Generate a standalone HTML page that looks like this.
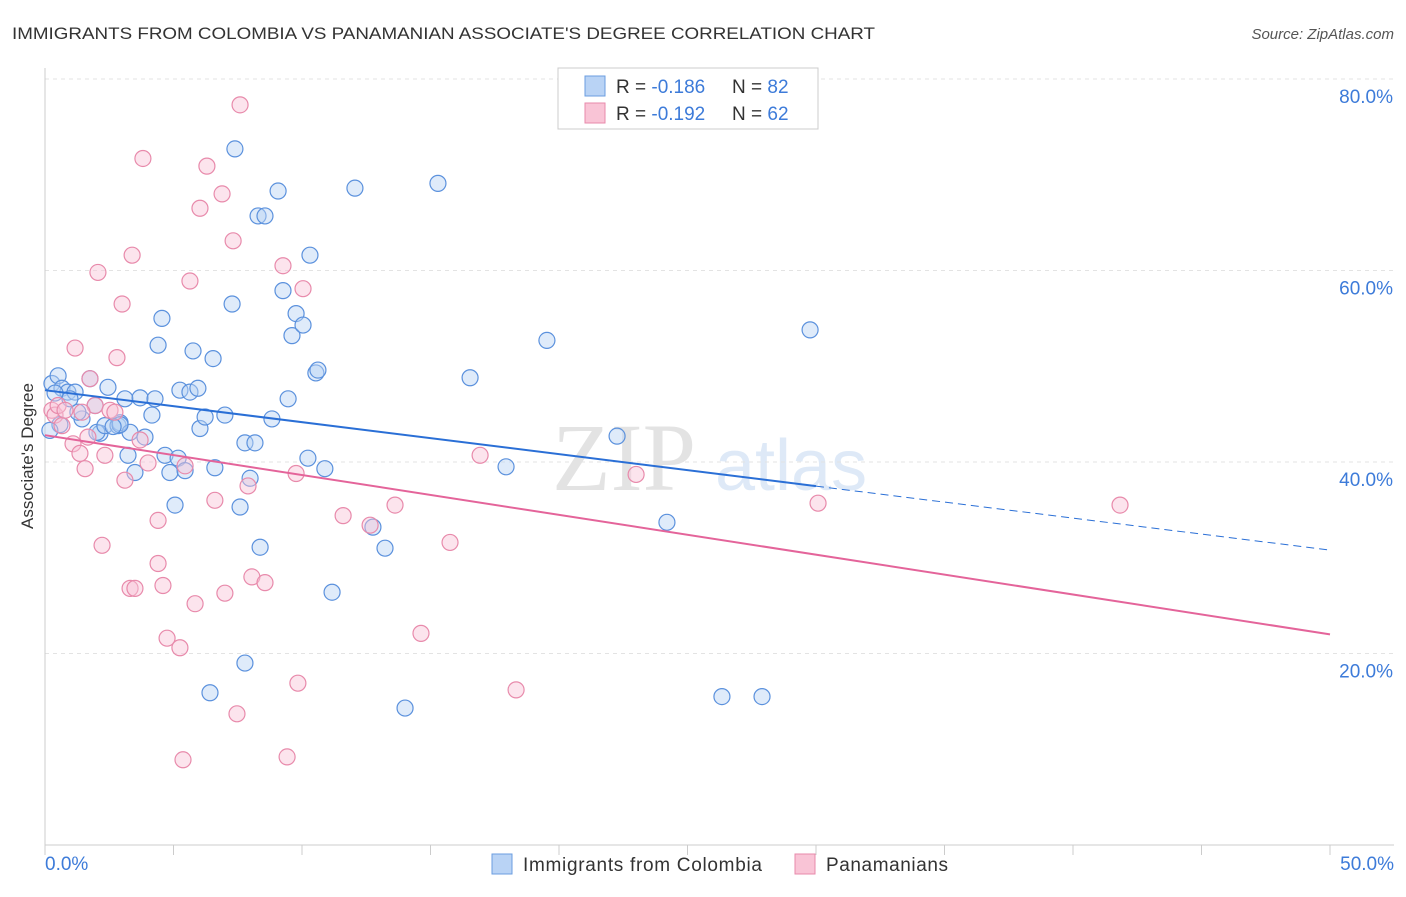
<!DOCTYPE html>
<html><head><meta charset="utf-8"><style>
body{margin:0;background:#fff;font-family:"Liberation Sans",sans-serif;}
</style></head><body>
<svg width="1406" height="892" xmlns="http://www.w3.org/2000/svg" id="chart">
<text x="12" y="39" font-size="17" fill="#333" textLength="863" lengthAdjust="spacingAndGlyphs">IMMIGRANTS FROM COLOMBIA VS PANAMANIAN ASSOCIATE'S DEGREE CORRELATION CHART</text>
<text x="1394" y="39" font-size="15" fill="#555" font-style="italic" text-anchor="end">Source: ZipAtlas.com</text>
<text x="0" y="0" transform="translate(33,456) rotate(-90)" font-size="17" fill="#333" text-anchor="middle">Associate's Degree</text>
<g><text x="552" y="490" font-size="96" fill="#ddd" font-family="Liberation Serif" opacity="0.8">ZIP</text><text x="715" y="490" font-size="72" fill="#c9dcf3" opacity="0.6">atlas</text></g>
<g id="grid"></g><g id="axes"></g><g id="marks"></g>
<g>
<rect x="558" y="68" width="260" height="61" fill="#fff" stroke="#ccc"/>
<rect x="585" y="76" width="20" height="20" fill="#b9d3f5" stroke="#6b9ee0"/>
<rect x="585" y="103" width="20" height="20" fill="#f9c4d6" stroke="#e88aab"/>
<text x="616" y="93" font-size="19" fill="#333">R = <tspan fill="#3d7bd9">-0.186</tspan></text>
<text x="732" y="93" font-size="19" fill="#333">N = <tspan fill="#3d7bd9">82</tspan></text>
<text x="616" y="120" font-size="19" fill="#333">R = <tspan fill="#3d7bd9">-0.192</tspan></text>
<text x="732" y="120" font-size="19" fill="#333">N = <tspan fill="#3d7bd9">62</tspan></text>
</g>
<g>
<rect x="492" y="854" width="20" height="20" fill="#b9d3f5" stroke="#6b9ee0"/>
<text x="523" y="871" font-size="19" fill="#333" textLength="239">Immigrants from Colombia</text>
<rect x="795" y="854" width="20" height="20" fill="#f9c4d6" stroke="#e88aab"/>
<text x="826" y="871" font-size="19" fill="#333" textLength="122">Panamanians</text>
</g>
</svg>
<script>
const yTicks=[20,40,60,80];
const yTickLabels=["20.0%","40.0%","60.0%","80.0%"];
const xTickLabels=["0.0%","50.0%"];
const blueX=[0.27,0.51,0.66,0.89,1.17,0.39,1.44,1.75,1.28,2.14,2.02,2.45,2.33,2.84,2.92,3.11,3.31,3.23,3.50,3.89,3.70,4.16,4.28,4.55,4.40,4.67,4.86,5.06,5.18,5.45,5.25,5.76,5.64,5.95,6.03,6.23,6.54,6.61,6.42,7.00,7.28,7.39,7.59,7.78,7.78,8.17,7.98,8.37,8.29,8.56,8.83,9.07,9.26,9.46,9.61,9.77,10.04,10.31,10.23,10.54,10.62,10.89,11.17,12.06,12.76,13.23,14.01,15.29,16.54,17.94,19.53,22.26,24.20,26.34,27.90,29.77,2.92,2.65,1.95,0.97,0.58,0.19];
const blueY=[48.2,49.0,47.7,47.3,47.3,47.2,44.5,48.7,45.2,43.0,43.1,47.8,43.8,43.8,44.1,46.6,43.1,40.7,38.9,42.6,46.7,44.9,46.6,55.0,52.2,40.7,38.9,35.5,40.4,39.1,47.5,51.6,47.3,47.7,43.5,44.7,50.8,39.4,15.9,44.9,56.5,72.7,35.3,42.0,19.0,42.0,38.3,31.1,65.7,65.7,44.5,68.3,57.9,46.6,53.2,55.5,54.3,61.6,40.4,49.3,49.6,39.3,26.4,68.6,33.2,31.0,14.3,69.1,48.8,39.5,52.7,42.7,33.7,15.5,15.5,53.8,43.9,43.7,45.9,46.6,43.9,43.3];
const pinkX=[0.27,0.39,0.51,0.66,0.78,1.09,1.17,1.36,1.56,1.75,1.95,2.06,2.22,2.33,2.53,2.72,2.80,3.00,3.11,3.31,3.39,3.50,3.81,4.01,4.40,4.40,4.59,4.75,5.25,5.37,5.45,5.64,5.84,6.03,6.30,6.61,6.89,7.00,7.32,7.47,7.59,7.90,8.05,8.56,9.26,9.42,9.77,9.84,10.04,11.60,12.65,13.62,14.63,15.76,16.93,18.33,23.00,30.08,41.83,3.70,1.67,1.44];
const pinkY=[45.4,44.9,45.9,43.8,45.4,41.9,51.9,40.9,39.3,48.7,45.9,59.8,31.3,40.7,45.4,45.2,50.9,56.5,38.1,26.8,61.6,26.8,71.7,39.9,33.9,29.4,27.1,21.6,20.6,8.9,39.6,58.9,25.2,66.5,70.9,36.0,68.0,26.3,63.1,13.7,77.3,37.5,28.0,27.4,60.5,9.2,38.8,16.9,58.1,34.4,33.4,35.5,22.1,31.6,40.7,16.2,38.7,35.7,35.5,42.3,42.6,45.2];
const blueTrend=[47.5,30.8];
const blueSolidEnd=30;
const pinkTrend=[42.8,22.0];
const NS="http://www.w3.org/2000/svg";
const X0=45,X1=1330,Y0=845,Ytop=79;
const sx=v=>X0+(X1-X0)*v/50;
const sy=v=>Y0-(Y0-Ytop)*v/80;
function mk(tag,attrs,parent){const e=document.createElementNS(NS,tag);for(const k in attrs)e.setAttribute(k,attrs[k]);document.getElementById(parent).appendChild(e);return e;}
yTicks.forEach((t,i)=>{
 const g=mk('line',{x1:X0,x2:1394,y1:sy(t),y2:sy(t),stroke:'#e3e3e3','stroke-dasharray':'4,4'},'grid');
 
 
 const l=mk('text',{x:1393,y:sy(t)+24,'font-size':19,fill:'#3d7bd9','text-anchor':'end'},'axes');
 l.textContent=yTickLabels[i];
 
 
});
const ax=mk('line',{x1:X0,x2:X0,y1:68,y2:Y0,stroke:'#ccc'},'axes');


const bx=mk('line',{x1:X0,x2:1394,y1:Y0,y2:Y0,stroke:'#ccc'},'axes');


for(let i=0;i<=10;i++){
 const t=mk('line',{x1:sx(i*5),x2:sx(i*5),y1:Y0,y2:Y0+10,stroke:'#ccc'},'axes');
 
 
}
[[0,'start',45],[50,'end',1394]].forEach((d,i)=>{
 const l=mk('text',{x:d[2],y:870,'font-size':19,fill:'#3d7bd9','text-anchor':d[1]},'axes');
 l.textContent=xTickLabels[i];
 
 
});
function dots(xs,ys,fill,stroke,name){xs.forEach((x,i)=>{
 const c=mk('circle',{cx:sx(x),cy:sy(ys[i]),r:8,fill:fill,'fill-opacity':0.45,stroke:stroke,'stroke-width':1.2},'marks');
 
 
});}
dots(blueX,blueY,'#b9d3f5','#5b91dd','colombia-point');
dots(pinkX,pinkY,'#f9c4d6','#e88aab','panamanian-point');
const bAt=x=>blueTrend[0]+(blueTrend[1]-blueTrend[0])*x/50;
const l1=mk('line',{x1:sx(0),y1:sy(bAt(0)),x2:sx(blueSolidEnd),y2:sy(bAt(blueSolidEnd)),stroke:'#2a6fd6','stroke-width':2},'marks');


const l2=mk('line',{x1:sx(blueSolidEnd),y1:sy(bAt(blueSolidEnd)),x2:sx(50),y2:sy(bAt(50)),stroke:'#2a6fd6','stroke-width':1,'stroke-dasharray':'8,5'},'marks');


const l3=mk('line',{x1:sx(0),y1:sy(pinkTrend[0]),x2:sx(50),y2:sy(pinkTrend[1]),stroke:'#e4649a','stroke-width':2},'marks');


</script>
</body></html>
